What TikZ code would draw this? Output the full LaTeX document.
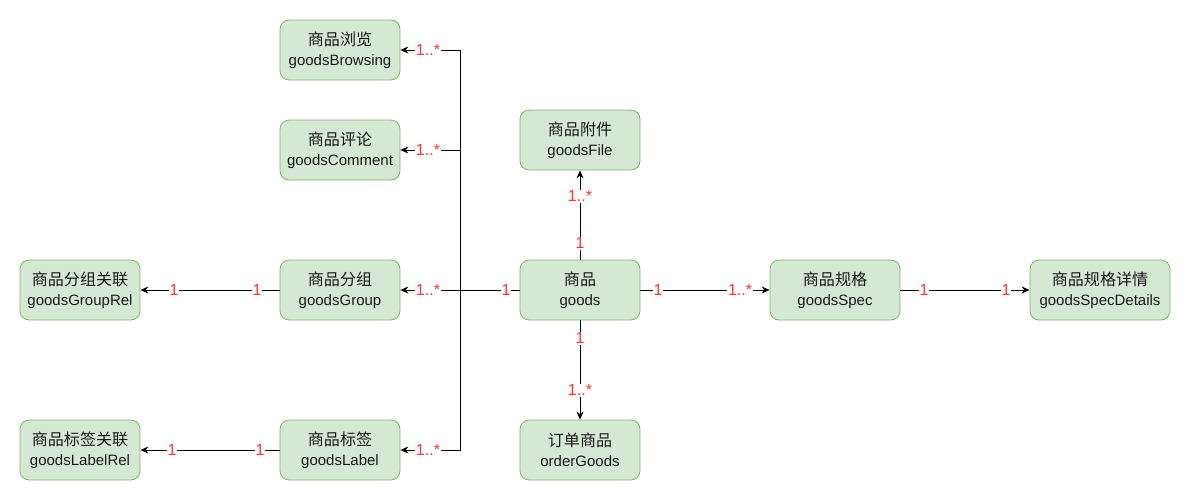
\documentclass[tikz,border=0pt]{standalone}
\usepackage{fontspec}
\setmainfont{Liberation Sans}
\newfontfamily\cjk[Scale=1.07]{Noto Sans CJK SC}
\usetikzlibrary{arrows.meta}
\definecolor{boxfill}{HTML}{D5E8D4}
\definecolor{boxline}{HTML}{82B366}
\definecolor{lblred}{HTML}{FF3333}
\definecolor{txt}{HTML}{1A1A1A}
\begin{document}
\begin{tikzpicture}[x=1pt,y=-1pt,
 ent/.style={draw=boxline, fill=boxfill, rounded corners=9pt, minimum width=120pt, minimum height=60pt, align=center, text=txt, font=\fontsize{15}{20}\selectfont, inner sep=0pt, line width=0.8pt},
 conn/.style={draw=black, line width=0.8pt},
 arr/.style={conn, -{Stealth[length=8pt,width=7pt]}},
 lbl/.style={fill=white, text=lblred, font=\fontsize{16}{18}\selectfont, inner sep=1pt}]
\useasboundingbox[fill=white] (0,0) rectangle (1191,501);
% entities
\node[ent] (browse) at (340,50) {{\cjk 商品浏览}\\goodsBrowsing};
\node[ent] (comment) at (340,150) {{\cjk 商品评论}\\goodsComment};
\node[ent] (group) at (340,290) {{\cjk 商品分组}\\goodsGroup};
\node[ent] (label) at (340,450) {{\cjk 商品标签}\\goodsLabel};
\node[ent] (grouprel) at (80,290) {{\cjk 商品分组关联}\\goodsGroupRel};
\node[ent] (labelrel) at (80,450) {{\cjk 商品标签关联}\\goodsLabelRel};
\node[ent] (goods) at (580,290) {{\cjk 商品}\\goods};
\node[ent] (file) at (580,140) {{\cjk 商品附件}\\goodsFile};
\node[ent] (order) at (580,450) {{\cjk 订单商品}\\orderGoods};
\node[ent, minimum width=130pt] (spec) at (835,290) {{\cjk 商品规格}\\goodsSpec};
\node[ent, minimum width=140pt] (specdet) at (1100,290) {{\cjk 商品规格详情}\\goodsSpecDetails};
% trunk
\coordinate (trunk) at (460,290);
% connectors
\draw[arr] (goods.west) -- (trunk) |- (browse.east);
\draw[arr] (goods.west) -- (trunk) |- (comment.east);
\draw[arr] (goods.west) -- (group.east);
\draw[arr] (goods.west) -- (trunk) |- (label.east);
\draw[arr] (group.west) -- (grouprel.east);
\draw[arr] (label.west) -- (labelrel.east);
\draw[arr] (goods.north) -- (file.south);
\draw[arr] (goods.south) -- (order.north);
\draw[arr] (goods.east) -- (spec.west);
\draw[arr] (spec.east) -- (specdet.west);
% labels
\node[lbl] (l1) at (428,50) {1..*};
\node[lbl] (l2) at (428,150) {1..*};
\node[lbl] (l3) at (428,290) {1..*};
\node[lbl] (l4) at (428,450) {1..*};
\node[lbl] (l5) at (506,290) {1};
\node[lbl] (l6) at (580,243) {1};
\node[lbl] (l7) at (580,196) {1..*};
\node[lbl] (l8) at (580,338) {1};
\node[lbl] (l9) at (580,390) {1..*};
\node[lbl] (l10) at (658,290) {1};
\node[lbl] (l11) at (740,290) {1..*};
\node[lbl] (l12) at (924,290) {1};
\node[lbl] (l13) at (1006,290) {1};
\node[lbl] (l14) at (174,290) {1};
\node[lbl] (l15) at (257,290) {1};
\node[lbl] (l16) at (172,450) {1};
\node[lbl] (l17) at (260,450) {1};
\end{tikzpicture}
\end{document}
